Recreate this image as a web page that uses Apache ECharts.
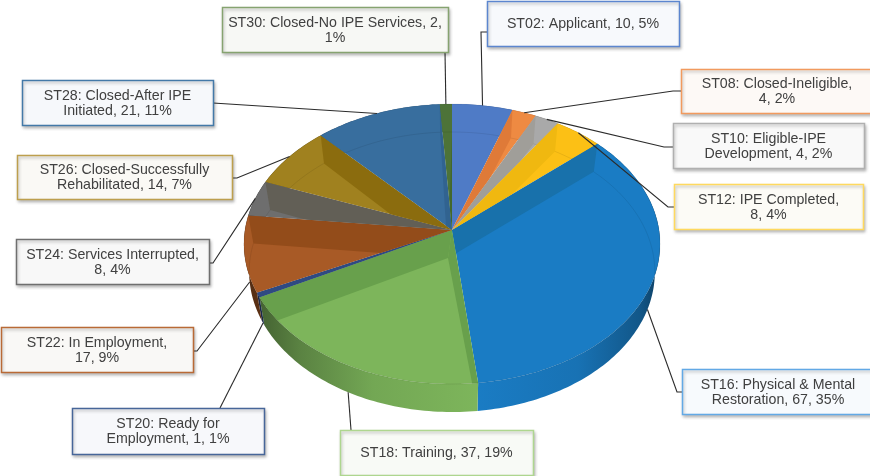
<!DOCTYPE html>
<html>
<head>
<meta charset="utf-8">
<style>html,body{margin:0;padding:0;background:#fff}#chart{width:870px;height:476px}</style>
<script src="https://cdn.jsdelivr.net/npm/echarts@6/dist/echarts.min.js"></script>
</head>
<body>
<div id="chart"></div>
<script>
var values = [10, 4, 4, 8, 67, 37, 1, 17, 8, 14, 21, 2];
var labelTexts = [
  'ST02: Applicant, 10, 5%',
  'ST08: Closed-Ineligible,\n4, 2%',
  'ST10: Eligible-IPE\nDevelopment, 4, 2%',
  'ST12: IPE Completed,\n8, 4%',
  'ST16: Physical & Mental\nRestoration, 67, 35%',
  'ST18: Training, 37, 19%',
  'ST20: Ready for\nEmployment, 1, 1%',
  'ST22: In Employment,\n17, 9%',
  'ST24: Services Interrupted,\n8, 4%',
  'ST26: Closed-Successfully\nRehabilitated, 14, 7%',
  'ST28: Closed-After IPE\nInitiated, 21, 11%',
  'ST30: Closed-No IPE Services, 2,\n1%'
];
var faceColors = ['#4f7bc6', '#ee8a42', '#a9a9a9', '#fcc015', '#1a7cc4', '#7db55b', '#2f4a82', '#a85a26', '#6e6e6e', '#a0811f', '#386e9e', '#4d7338'];
var wallColors = ['#4670b8', '#df7a38', '#a09e99', '#f0b810', '#1871ab', '#68a04c', '#2f4a82', '#934c1a', '#625f56', '#8b6c0e', '#316390', '#43682b'];
var borderColors = ['#5c86cf', '#f29a5e', '#b0b0b0', '#ffd95e', '#62a9e6', '#aed68f', '#476699', '#b96a36', '#6f6f6f', '#bd9f4d', '#4379a8', '#86a370'];
var boxFills = ['#f7f9fc', '#fdf9f6', '#f9f9f9', '#fcfbf6', '#f7fafd', '#f8faf6', '#f7f8fb', '#f9f8f6', '#f8f8f8', '#faf9f5', '#f6f8fb', '#f7f8f5'];

// callout boxes [x, y, w, h] and the elbow the leader leaves through
var boxes = [
  [487, 1, 192, 45], [681, 69, 192, 44], [673, 123, 191, 45], [674, 184, 189, 45],
  [682, 369, 192, 45], [340, 430, 193, 45], [72, 408, 192, 46], [1, 327, 192, 45],
  [16, 239, 193, 45], [17, 155, 215, 44], [22, 80, 191, 45], [222, 7, 226, 45]
];
var elbows = [
  [[487, 32], [481, 32]], [[681, 91], [673, 91]], [[673, 147], [664, 147]], [[674, 207], [668, 207]],
  [[682, 392], [677, 392]], [[351, 430]], [[220, 408]], [[193, 351], [197, 351]],
  [[209, 263], [213, 263]], [[232, 178], [237, 178]], [[213, 103]], [[445, 52]]
];

var cx = 452, cy = 230, rx = 207, ry = 138.6, persp = 0.1, depth = 28, baseScale = 0.975;
var total = values.reduce(function (a, b) { return a + b; }, 0);

function rim(theta) {
  var u = Math.sin(theta), v = -Math.cos(theta), d = 1 - persp * v;
  return [cx + rx * u / d, cy + ry * v / d];
}
function toBase(p) {
  return [cx + (p[0] - cx) * baseScale, p[1] + depth];
}
function arc(a, b) {
  var pts = [], n = Math.max(2, Math.ceil((b - a) / 0.02));
  for (var i = 0; i <= n; i++) {
    pts.push(rim(a + (b - a) * i / n));
  }
  return pts;
}
function shade(color, f) {
  var c = echarts.color.parse(color);
  return 'rgb(' + Math.round(c[0] * f) + ',' + Math.round(c[1] * f) + ',' + Math.round(c[2] * f) + ')';
}
function wall(theta, face, color) {
  var p = rim(theta);
  return {
    type: 'polygon', z2: 3, silent: true,
    shape: { points: [[cx, cy], p, toBase(p), [cx - 4, cy + depth]] },
    style: { fill: color },
    clipPath: { type: 'polygon', shape: { points: face } }
  };
}

function renderSlice(params) {
  var i = params.dataIndex;
  var before = 0;
  for (var k = 0; k < i; k++) before += values[k];
  var a = before / total * Math.PI * 2;
  var b = (before + values[i]) / total * Math.PI * 2;
  var color = faceColors[i];
  var top = arc(a, b);
  var bottom = top.map(toBase);
  var face = [[cx, cy]].concat(top);
  var children = [];

  // outer side of the slice, darker towards the ends of the pie
  children.push({
    type: 'polygon', z2: 1, silent: true,
    shape: { points: top.concat(bottom.slice().reverse()) },
    style: {
      fill: new echarts.graphic.LinearGradient(250, 0, 660, 0, [
        { offset: 0, color: shade(color, 0.5) },
        { offset: 0.12, color: shade(color, 0.72) },
        { offset: 0.3, color: shade(color, 0.92) },
        { offset: 0.55, color: shade(color, 1) },
        { offset: 0.8, color: shade(color, 0.92) },
        { offset: 0.95, color: shade(color, 0.7) },
        { offset: 1, color: shade(color, 0.5) }
      ], true),
      stroke: null
    }
  });
  children.push({
    type: 'polygon', z2: 2, silent: true,
    shape: { points: face },
    style: { fill: color }
  });
  if (a < Math.PI) children.push(wall(a, face, wallColors[i]));
  if (b > Math.PI) children.push(wall(b, face, wallColors[i]));

  // lower rim seen through the top
  children.push({
    type: 'polyline', z2: 4, silent: true,
    shape: { points: bottom },
    style: { fill: null, stroke: 'rgba(0,0,0,0.08)', lineWidth: 1 },
    clipPath: { type: 'polygon', shape: { points: face } }
  });
  children.push({
    type: 'polyline', z2: 4, silent: true,
    shape: { points: top },
    style: { fill: null, stroke: 'rgba(0,0,0,0.08)', lineWidth: 1 }
  });

  // leader from the callout to the middle of the slice
  var mid = rim((a + b) / 2);
  if (Math.cos((a + b) / 2) < 0) mid = toBase(mid);
  children.push({
    type: 'polyline', z2: 5, silent: true,
    shape: { points: elbows[i].concat([mid]) },
    style: { fill: null, stroke: '#2b2b2b', lineWidth: 1.1 }
  });

  var box = boxes[i];
  children.push({
    type: 'rect', z2: 6, silent: true,
    shape: { x: box[0] + 0.5, y: box[1] + 0.5, width: box[2], height: box[3] },
    style: {
      fill: boxFills[i], stroke: borderColors[i], lineWidth: 1.5,
      shadowBlur: 3, shadowOffsetX: 1, shadowOffsetY: 2, shadowColor: 'rgba(0,0,0,0.25)'
    }
  });
  children.push({
    type: 'text', z2: 7, silent: true,
    style: {
      x: box[0] + box[2] / 2, y: box[1] + box[3] / 2 + 1,
      text: labelTexts[i], align: 'center', verticalAlign: 'middle',
      font: '14.2px "Liberation Sans", Arial, sans-serif', lineHeight: 15, fill: '#404040'
    }
  });
  return { type: 'group', children: children };
}

var chart = echarts.init(document.getElementById('chart'));
chart.setOption({
  animation: false,
  backgroundColor: '#ffffff',
  tooltip: { show: false },
  series: [{
    type: 'custom',
    coordinateSystem: 'none',
    renderItem: renderSlice,
    data: values,
    silent: true
  }]
});
</script>
</body>
</html>
